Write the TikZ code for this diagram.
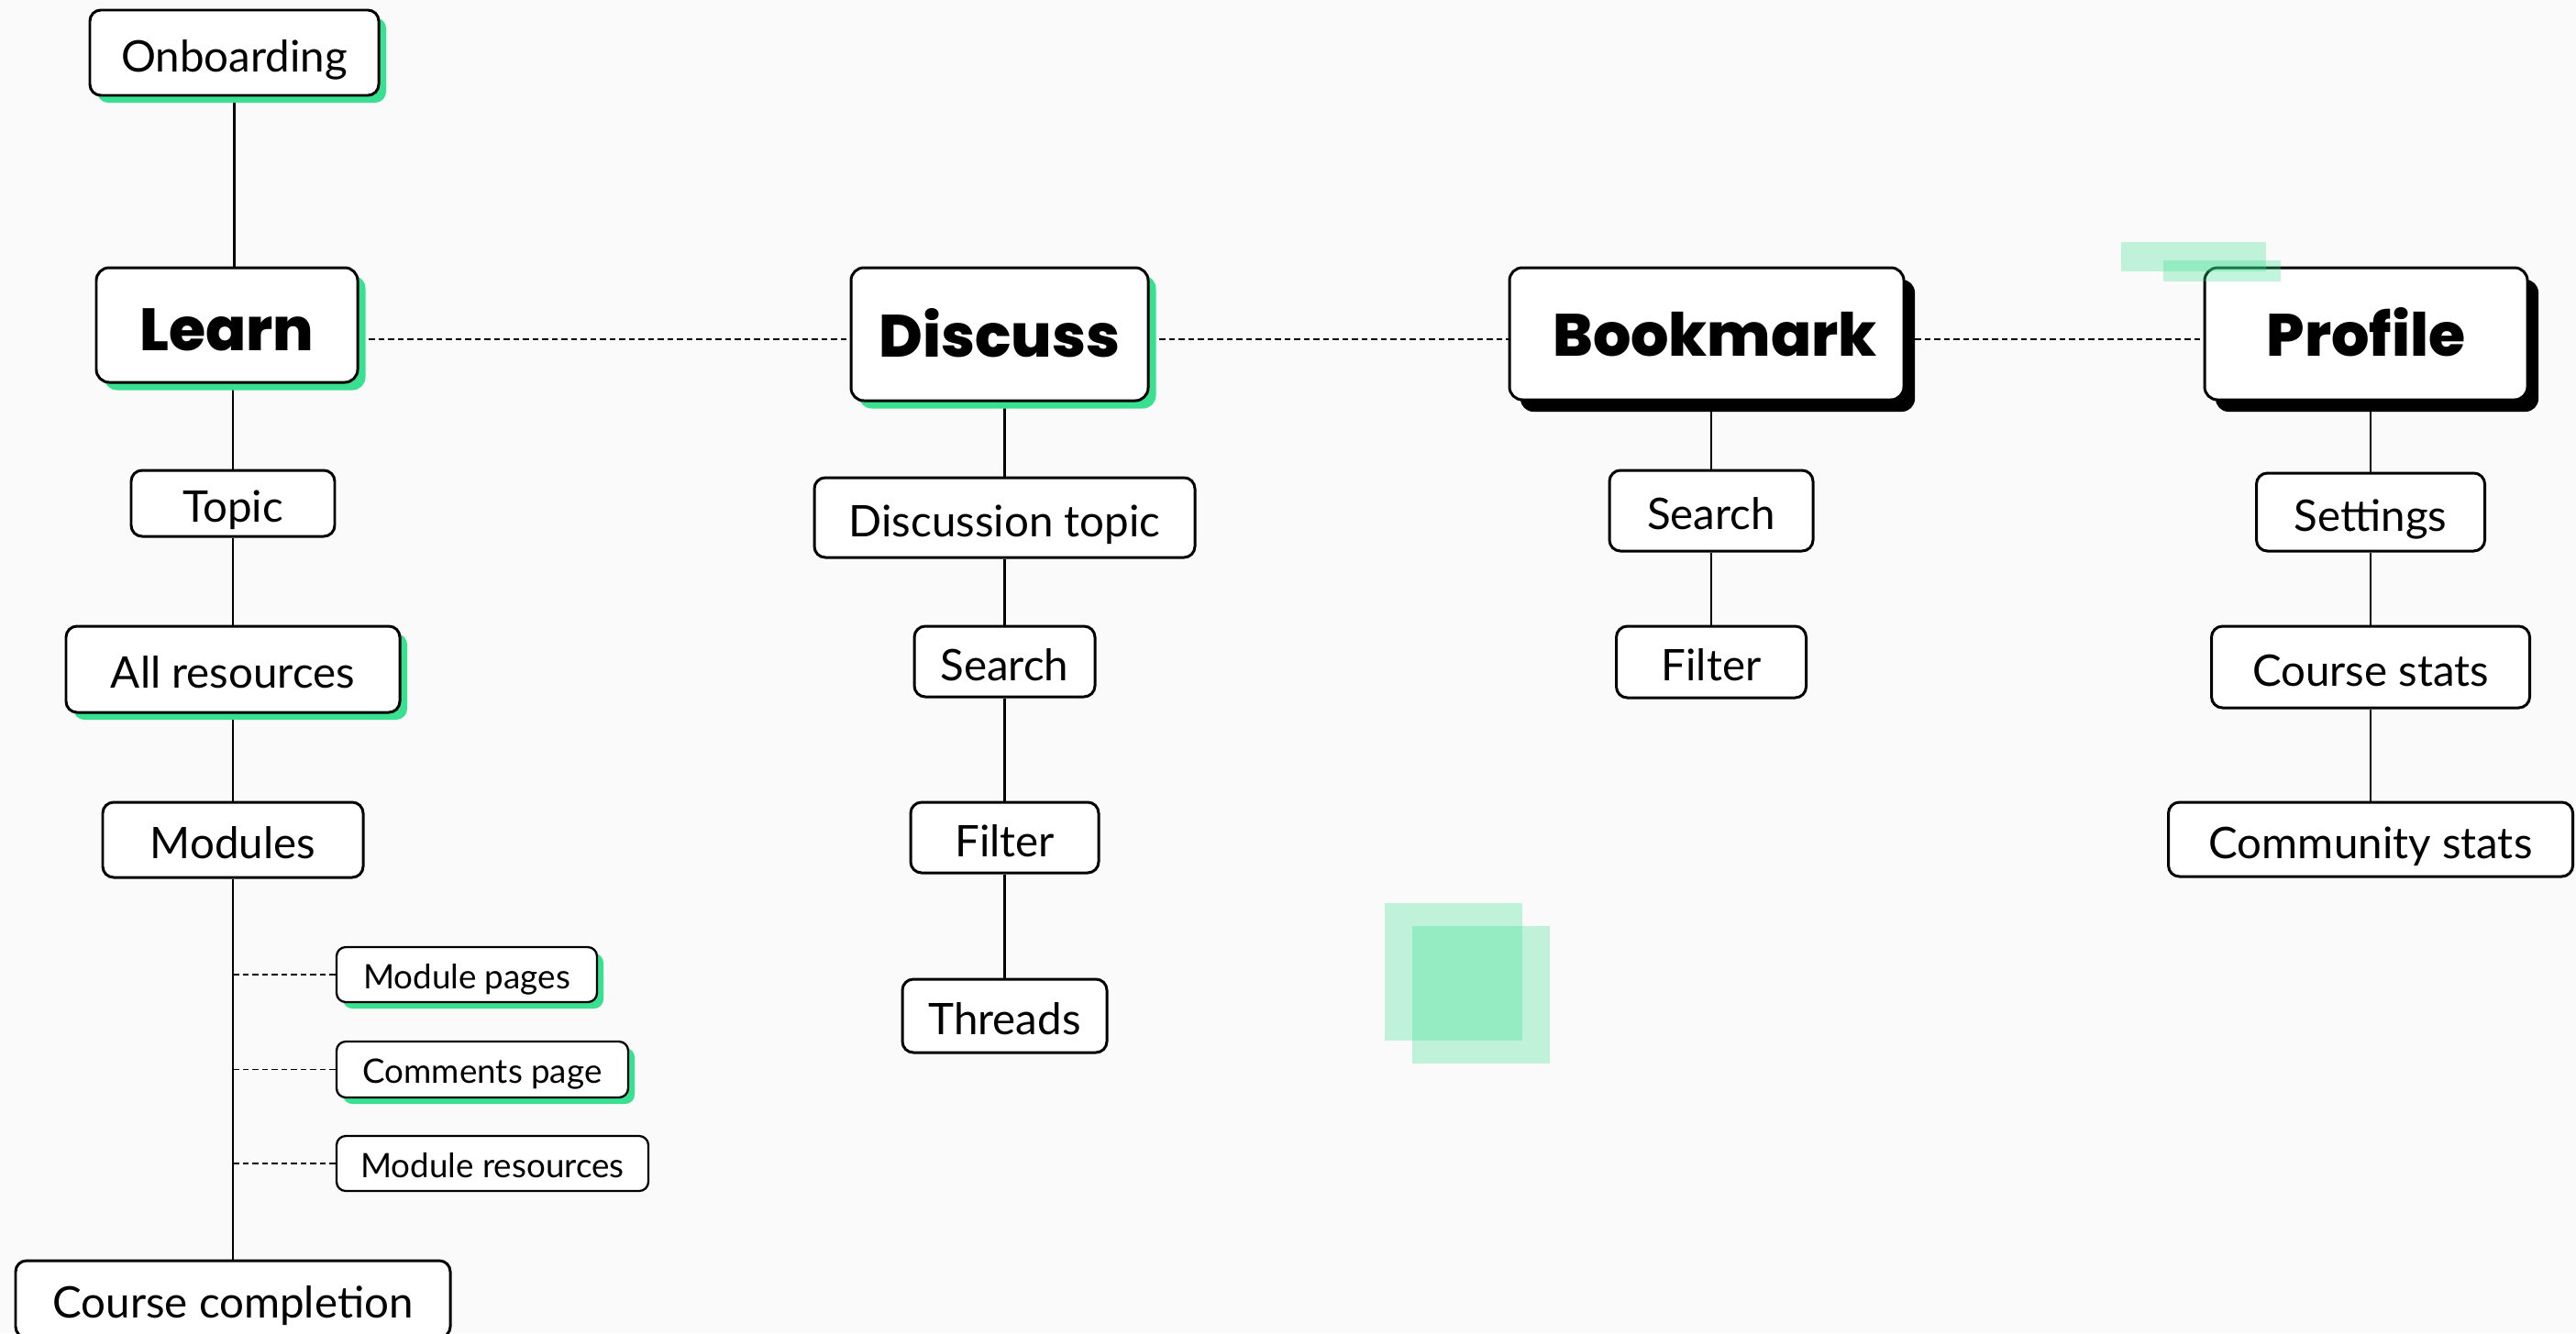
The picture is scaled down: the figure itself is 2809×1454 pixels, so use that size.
\documentclass[tikz,border=0pt]{standalone}
\usepackage{fontspec}
\setmainfont{Lato}
\newfontfamily\headfont{Poppins}[BoldFont={Poppins ExtraBold}]
\usetikzlibrary{shadows,backgrounds}

\definecolor{paper}{HTML}{FAFAFA}
\definecolor{mint}{HTML}{38E090}

\tikzset{
  box/.style={draw=black, fill=white, rounded corners=0.12cm, line width=0.85pt,
    inner sep=0pt, align=center, text depth=0pt},
  headbox/.style={box, rounded corners=0.14cm, text height=0.49cm,
    font=\headfont\bfseries\fontsize{18.5pt}{22pt}\selectfont},
  midbox/.style={box, text height=0.41cm, font=\fontsize{13.5pt}{16pt}\selectfont},
  smallbox/.style={box, line width=0.65pt, rounded corners=0.1cm, text height=0.30cm,
    font=\fontsize{10.45pt}{12pt}\selectfont},
  sz/.style 2 args={minimum width=#1*0.01cm, minimum height=#2*0.01cm},
  mintshadow/.style={general shadow={fill=mint, shadow xshift=#1, shadow yshift=-#1}},
  inkshadow/.style={general shadow={fill=black, shadow xshift=0.12cm, shadow yshift=-0.13cm}},
  link/.style={line width=0.65pt},
  dashlink/.style={line width=0.55pt, dash pattern=on 0.065cm off 0.04cm},
  glass/.style={fill=mint, fill opacity=0.3, draw=none}
}

\begin{document}
\begin{tikzpicture}[x=0.01cm, y=-0.01cm]
  \useasboundingbox (0,0) rectangle (2809,1454);
  \clip (0,0) rectangle (2809,1454);

  % main sections
  \node[headbox, sz={285}{125}, text height=0.55cm, mintshadow=0.085cm] (learn) at (247.5,354.5) {Learn};
  \node[headbox, sz={324}{145}, mintshadow=0.085cm] (discuss)  at (1090,364.5) {Discuss};
  \node[headbox, sz={430}{144}, inkshadow]          (bookmark) at (1861,364) {\hspace*{0.18cm}Bookmark};
  \node[headbox, sz={352}{144}, inkshadow]          (profile)  at (2580,364) {Profile};

  % learn column
  \node[midbox, sz={315}{93}, mintshadow=0.08cm] (onb)     at (255.5,57.5) {Onboarding};
  \node[midbox, sz={222}{72}]                    (topic)   at (254,549) {Topic};
  \node[midbox, sz={364}{94}, mintshadow=0.08cm] (allres)  at (254,730) {All resources};
  \node[midbox, sz={284}{82}]                    (modules) at (254,916) {Modules};
  \node[midbox, sz={474}{84}]                    (course)  at (254,1417) {Course completion};

  \node[smallbox, sz={284}{60}, mintshadow=0.07cm] (modpages) at (509,1063) {Module pages};
  \node[smallbox, sz={318}{61}, mintshadow=0.07cm] (comments) at (526,1166.5) {Comments page};
  \node[smallbox, sz={340}{60}]                    (modres)   at (537,1269) {Module resources};

  % discuss column
  \node[midbox, sz={415}{87}] (dtopic)  at (1095.5,564.5) {Discussion topic};
  \node[midbox, sz={197}{77}] (dsearch) at (1095.5,721.5) {Search};
  \node[midbox, sz={205}{77}] (dfilter) at (1095.5,913.5) {Filter};
  \node[midbox, sz={223}{80}] (threads) at (1095.5,1108) {Threads};

  % bookmark column
  \node[midbox, sz={222}{88}] (bsearch) at (1866,557) {Search};
  \node[midbox, sz={207}{78}] (bfilter) at (1866,722) {Filter};

  % profile column
  \node[midbox, sz={249}{85}] (settings)  at (2585,558.5) {Settings};
  \node[midbox, sz={347}{89}] (cstats)    at (2585,727.5) {Course stats};
  \node[midbox, sz={441}{81}] (commstats) at (2585,915.5) {Community stats};

  \coordinate (spine) at (0,370);

  \begin{pgfonlayer}{background}
    \fill[paper] (0,0) rectangle (2809,1454);

    % dashed spine joining the sections
    \draw[dashlink] (learn.east |- spine)   -- (discuss.west |- spine);
    \draw[dashlink] (discuss.east |- spine) -- (bookmark.west |- spine);
    \draw[dashlink] (bookmark.east |- spine) -- (profile.west |- spine);

    % learn column
    \draw[link] (onb.south) -- (onb.south |- learn.north);
    \draw[link] (topic.north) -- (topic.north |- learn.south);
    \draw[link] (topic.south) -- (allres.north);
    \draw[link] (allres.south) -- (modules.north);
    \draw[link] (modules.south) -- (course.north);
    \draw[dashlink] (modpages.west -| modules.south) -- (modpages.west);
    \draw[dashlink] (comments.west -| modules.south) -- (comments.west);
    \draw[dashlink] (modres.west -| modules.south) -- (modres.west);

    % discuss column
    \draw[link] (dtopic.north) -- (dtopic.north |- discuss.south);
    \draw[link] (dtopic.south) -- (dsearch.north);
    \draw[link] (dsearch.south) -- (dfilter.north);
    \draw[link] (dfilter.south) -- (threads.north);

    % bookmark column
    \draw[link] (bsearch.north) -- (bsearch.north |- bookmark.south);
    \draw[link] (bsearch.south) -- (bfilter.north);

    % profile column
    \draw[link] (settings.north) -- (settings.north |- profile.south);
    \draw[link] (settings.south) -- (cstats.north);
    \draw[link] (cstats.south) -- (commstats.north);
  \end{pgfonlayer}

  % translucent accents
  \fill[glass] (2313,264) rectangle (2471,296);
  \fill[glass] (2359,284) rectangle (2487,307);
  \fill[glass] (1510,985) rectangle (1660,1135);
  \fill[glass] (1540,1010) rectangle (1690,1160);
\end{tikzpicture}
\end{document}
